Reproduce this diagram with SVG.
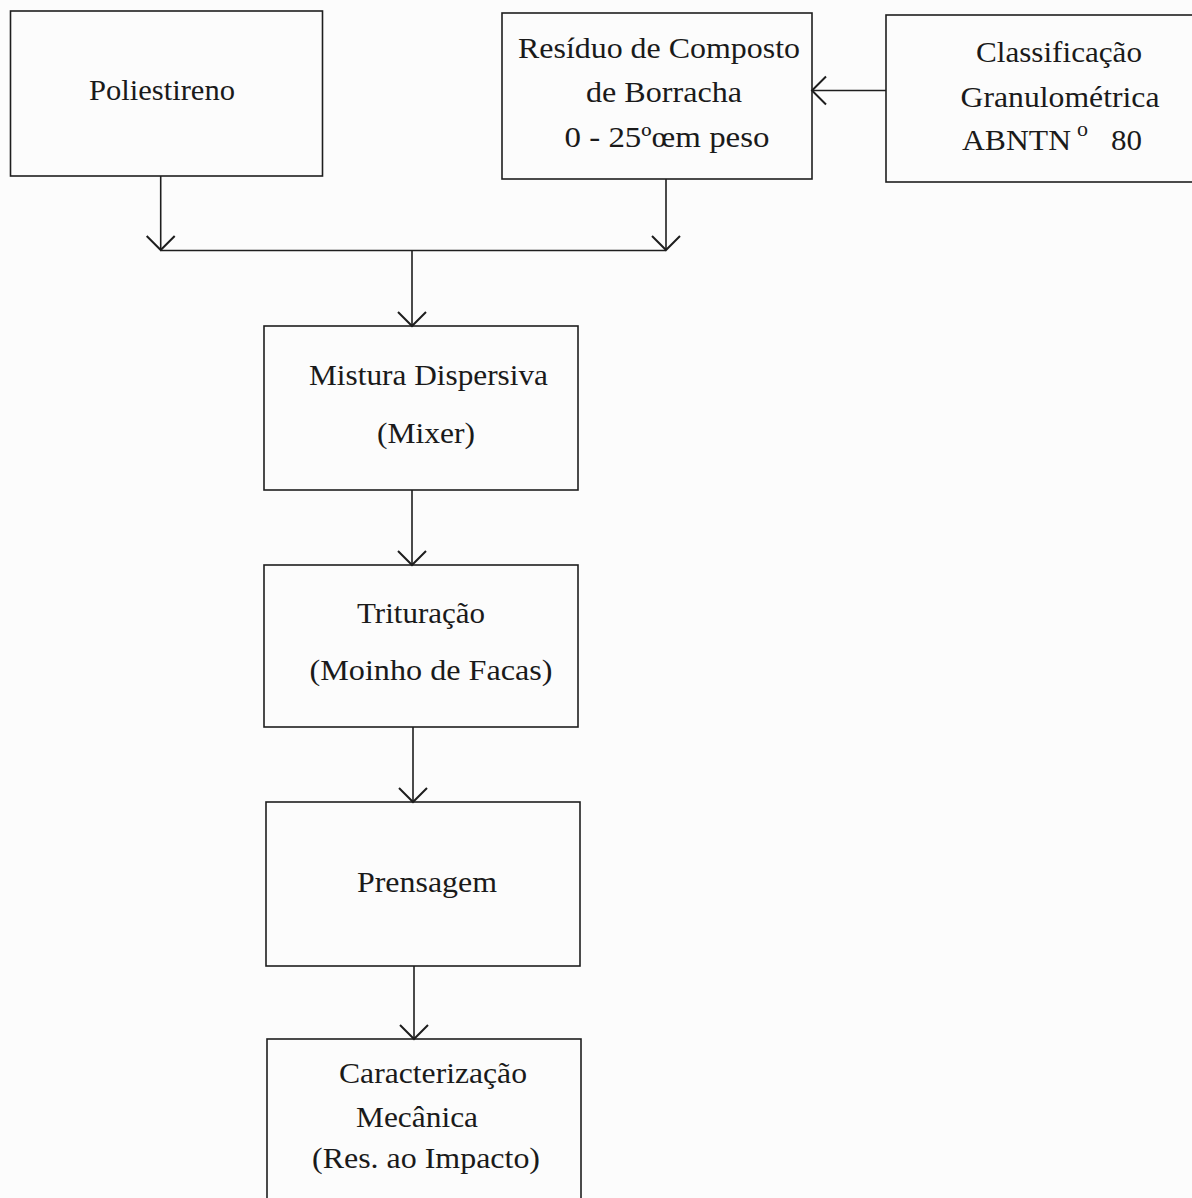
<svg xmlns="http://www.w3.org/2000/svg" width="1192" height="1198" viewBox="0 0 1192 1198">
<style>
.box{fill:none;stroke:#1e1e1e;stroke-width:1.6}
.lbl{font-family:"Liberation Serif","Times New Roman",Times,serif;font-size:30px;fill:#1a1a1a;text-anchor:middle}
.st{text-anchor:start}
.con{fill:none;stroke:#1e1e1e;stroke-width:1.6}
</style>
<defs>
<marker id="arr" markerUnits="userSpaceOnUse" markerWidth="40" markerHeight="40" viewBox="-20 -20 40 40" refX="0" refY="0" orient="auto">
<path d="M-14,-14 L0,0 L-14,14" fill="none" stroke="#1e1e1e" stroke-width="2"/>
</marker>
</defs>
<rect width="1192" height="1198" fill="#fcfcfc"/>
<g id="poliestireno">
<rect class="box" x="10.5" y="11" width="312" height="165"/>
<text class="lbl" x="162" y="100" textLength="146" lengthAdjust="spacingAndGlyphs">Poliestireno</text>
</g>
<g id="residuo">
<rect class="box" x="502" y="13" width="310" height="166"/>
<text class="lbl" x="659" y="58" textLength="282" lengthAdjust="spacingAndGlyphs">Resíduo de Composto</text>
<text class="lbl" x="664" y="102" textLength="156" lengthAdjust="spacingAndGlyphs">de Borracha</text>
<text class="lbl" x="667" y="147" textLength="205" lengthAdjust="spacingAndGlyphs">0 - 25ºœm peso</text>
</g>
<g id="classificacao">
<rect class="box" x="886" y="15" width="330" height="167"/>
<text class="lbl" x="1059" y="62" textLength="166" lengthAdjust="spacingAndGlyphs">Classificação</text>
<text class="lbl" x="1060" y="107" textLength="199" lengthAdjust="spacingAndGlyphs">Granulométrica</text>
<text class="lbl st" y="150"><tspan x="962" textLength="109" lengthAdjust="spacingAndGlyphs">ABNTN</tspan><tspan x="1077" y="136" font-size="22">o</tspan><tspan x="1111" y="150" textLength="31" lengthAdjust="spacingAndGlyphs">80</tspan></text>
</g>
<g id="mistura">
<rect class="box" x="264" y="326" width="314" height="164"/>
<text class="lbl" x="428.5" y="385" textLength="239" lengthAdjust="spacingAndGlyphs">Mistura Dispersiva</text>
<text class="lbl" x="426" y="443" textLength="98" lengthAdjust="spacingAndGlyphs">(Mixer)</text>
</g>
<g id="trituracao">
<rect class="box" x="264" y="565" width="314" height="162"/>
<text class="lbl" x="421" y="623" textLength="128" lengthAdjust="spacingAndGlyphs">Trituração</text>
<text class="lbl" x="431" y="680" textLength="243" lengthAdjust="spacingAndGlyphs">(Moinho de Facas)</text>
</g>
<g id="prensagem">
<rect class="box" x="266" y="802" width="314" height="164"/>
<text class="lbl" x="427" y="892" textLength="140" lengthAdjust="spacingAndGlyphs">Prensagem</text>
</g>
<g id="caracterizacao">
<rect class="box" x="267" y="1039" width="314" height="200"/>
<text class="lbl" x="433" y="1083" textLength="188" lengthAdjust="spacingAndGlyphs">Caracterização</text>
<text class="lbl" x="417" y="1127" textLength="122" lengthAdjust="spacingAndGlyphs">Mecânica</text>
<text class="lbl" x="426" y="1168" textLength="228" lengthAdjust="spacingAndGlyphs">(Res. ao Impacto)</text>
</g>
<g id="connectors">
<line class="con" x1="160.7" y1="176" x2="160.7" y2="250" marker-end="url(#arr)"/>
<line class="con" x1="666" y1="179" x2="666" y2="250" marker-end="url(#arr)"/>
<line class="con" x1="160.7" y1="250.5" x2="666" y2="250.5"/>
<line class="con" x1="412" y1="250.5" x2="412" y2="326" marker-end="url(#arr)"/>
<line class="con" x1="412" y1="490" x2="412" y2="565" marker-end="url(#arr)"/>
<line class="con" x1="413" y1="727" x2="413" y2="802" marker-end="url(#arr)"/>
<line class="con" x1="414" y1="966" x2="414" y2="1039" marker-end="url(#arr)"/>
<line class="con" x1="886" y1="90.5" x2="812" y2="90.5" marker-end="url(#arr)"/>
</g>
</svg>
